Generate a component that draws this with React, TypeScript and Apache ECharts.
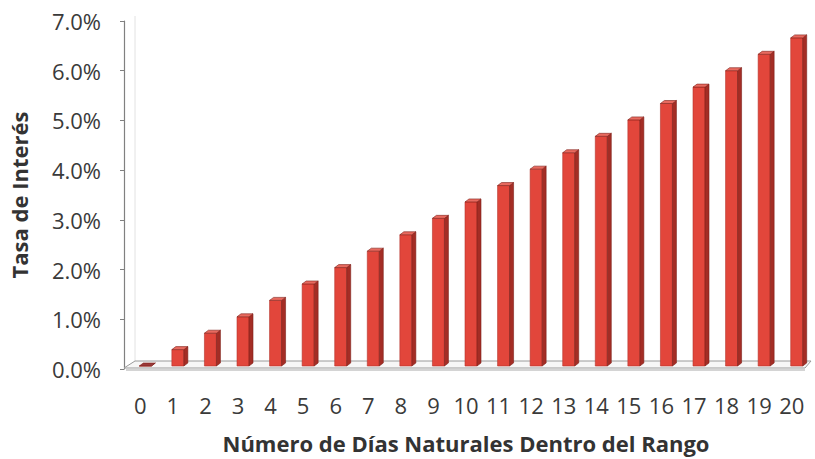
import React, { useEffect, useRef } from "react";
import * as echarts from "echarts";

const days: string[] = ["0","1","2","3","4","5","6","7","8","9","10","11","12","13","14","15","16","17","18","19","20"];
const rates: number[] = [0, 0.33, 0.66, 0.99, 1.32, 1.65, 1.98, 2.31, 2.64, 2.97, 3.3, 3.63, 3.96, 4.29, 4.62, 4.95, 5.28, 5.61, 5.94, 6.27, 6.6];
const yMin = 0;
const yMax = 7;
const yStep = 1;
const xTitle = "Número de Días Naturales Dentro del Rango";
const yTitle = "Tasa de Interés";

const FONT = "'Open Sans', 'Noto Sans', sans-serif";

export default function App() {
  const ref = useRef<HTMLDivElement>(null);
  useEffect(() => {
    if (!ref.current) return;
    const chart = echarts.init(ref.current, undefined, { renderer: "svg" });
    const option: any = {
      animation: false,
      backgroundColor: "#ffffff",
      grid: { left: 120, right: 7, top: 21, bottom: 86, containLabel: false },
      xAxis: {
        type: "category",
        data: days,
        boundaryGap: true,
        axisLine: { show: false },
        axisTick: { show: false },
        axisLabel: { color: "#3a3a3a", fontSize: 22, fontFamily: FONT, margin: 25, interval: 0 },
        name: xTitle,
        nameLocation: "middle",
        nameGap: 63,
        nameTextStyle: { color: "#333333", fontSize: 22, fontWeight: "bold", fontFamily: FONT },
      },
      yAxis: {
        type: "value",
        min: yMin,
        max: yMax,
        interval: yStep,
        splitLine: { show: false },
        axisLine: { show: true, lineStyle: { color: "#808080", width: 1.2 } },
        axisTick: { show: true, length: 4, lineStyle: { color: "#808080" } },
        axisLabel: {
          color: "#3a3a3a",
          fontSize: 22,
          fontFamily: FONT,
          margin: 23,
          formatter: (v: number) => v.toFixed(1) + "%",
        },
        name: yTitle,
        nameLocation: "middle",
        nameGap: 94,
        nameRotate: 90,
        nameTextStyle: { color: "#333333", fontSize: 22, fontWeight: "bold", fontFamily: FONT },
      },
      series: [
        {
          type: "custom",
          z: 1,
          silent: true,
          data: [[0, 0]],
          renderItem: (params: any, api: any) => {
            const cs = params.coordSys;
            const gx = cs.x, gy = cs.y, gw = cs.width, gh = cs.height;
            const fy = gy + gh - 1;
            const dx = 11, dyy = 7;
            return {
              type: "group",
              children: [
                {
                  type: "line",
                  shape: { x1: gx + dx, y1: gy - dyy + 2, x2: gx + dx, y2: fy - dyy },
                  style: { stroke: "#e2e2e2", lineWidth: 1 },
                },
                {
                  type: "polygon",
                  shape: {
                    points: [
                      [gx, fy],
                      [gx + gw - 3, fy],
                      [gx + gw + 3, fy - dyy],
                      [gx + dx, fy - dyy],
                    ],
                  },
                  style: { fill: "#f7f7f7", stroke: "#9a9a9a", lineWidth: 1 },
                },
                {
                  type: "line",
                  shape: { x1: gx + 2, y1: fy + 2, x2: gx + gw - 3, y2: fy + 2 },
                  style: { stroke: "#d4d4d4", lineWidth: 2 },
                },
              ],
            };
          },
        },
        {
          type: "custom",
          z: 2,
          data: rates.map((v, i) => [i, v]),
          renderItem: (params: any, api: any) => {
            const idx = api.value(0);
            const v = api.value(1);
            const base = api.coord([idx, 0]);
            const top = api.coord([idx, v]);
            const w = 12, dep = 4, depY = 3;
            const x0 = base[0] - 1;
            const x1 = x0 + w;
            const yb = base[1] - 3;
            const yt = top[1] - 3;
            return {
              type: "group",
              children: [
                {
                  type: "rect",
                  shape: { x: x0, y: yt, width: w, height: Math.max(0, yb - yt) },
                  style: { fill: "#e2463b", stroke: "#b5342b", lineWidth: 0.6 },
                },
                {
                  type: "polygon",
                  shape: { points: [[x1, yt], [x1 + dep, yt - depY], [x1 + dep, yb - depY], [x1, yb]] },
                  style: { fill: "#a42d25", stroke: "#7d2019", lineWidth: 0.6 },
                },
                {
                  type: "polygon",
                  shape: { points: [[x0, yt], [x0 + dep, yt - depY], [x1 + dep, yt - depY], [x1, yt]] },
                  style: { fill: v === 0 ? "#9b3a3a" : "#e86a5f", stroke: "#7d2019", lineWidth: 0.6 },
                },
              ],
            };
          },
        },
      ],
    };
    chart.setOption(option);
    return () => chart.dispose();
  }, []);
  return <div ref={ref} style={{ position: "absolute", left: 0, top: 0, width: 815, height: 459 }} />;
}
